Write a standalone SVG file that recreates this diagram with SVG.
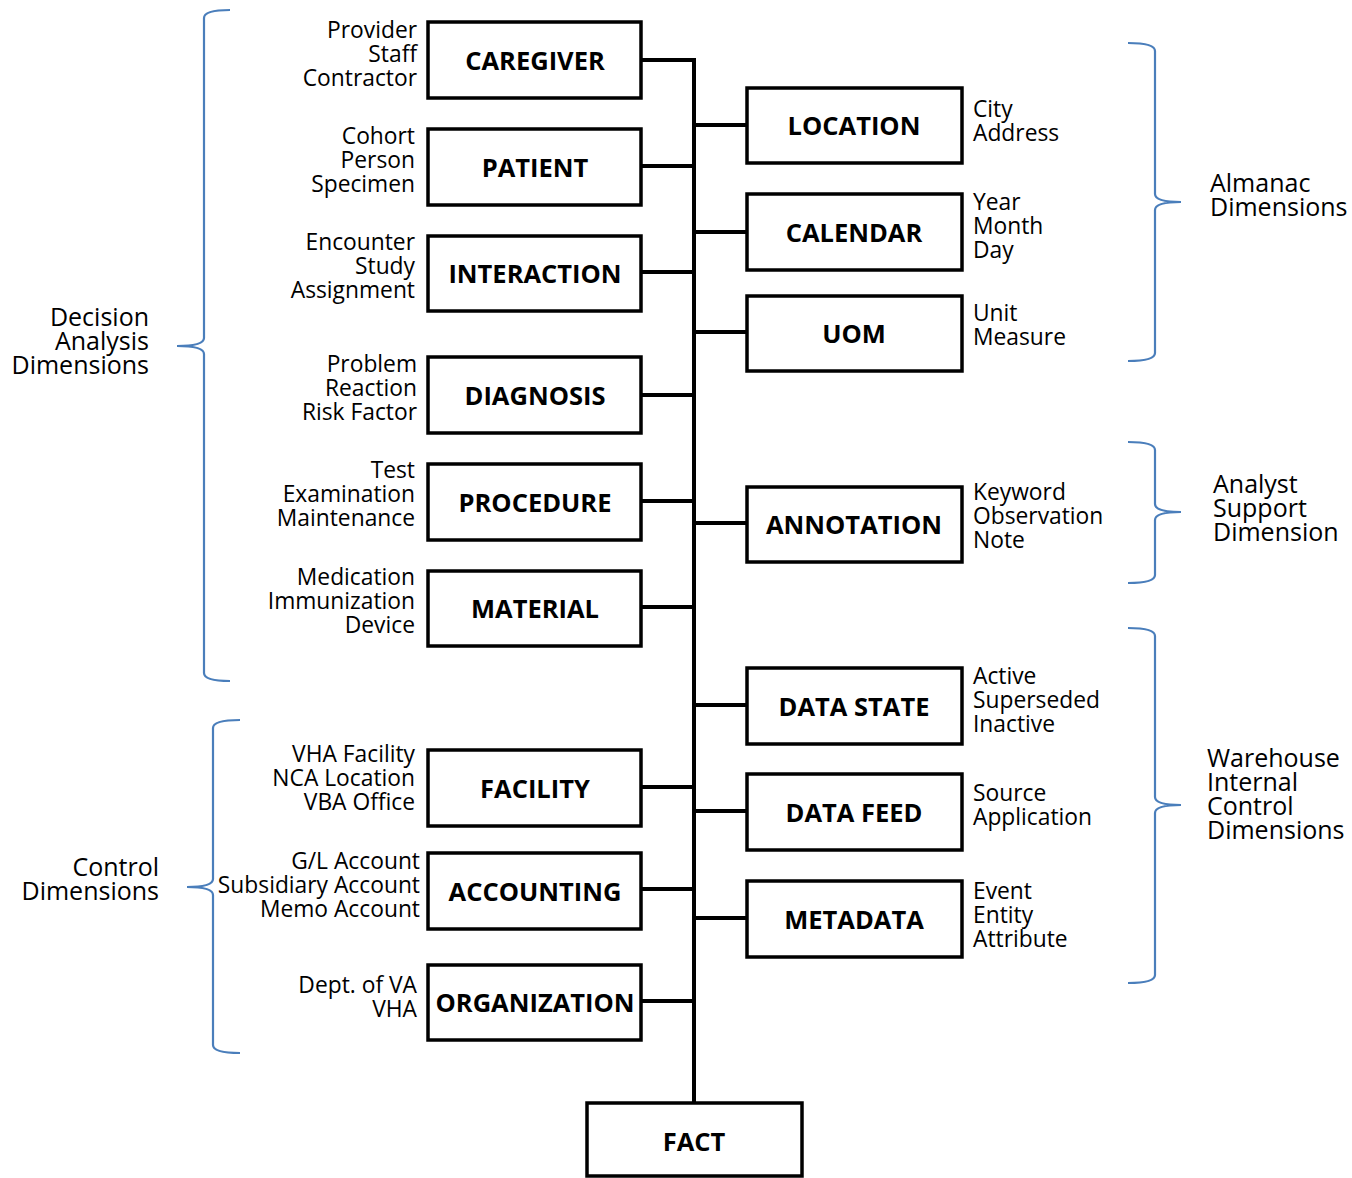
<svg xmlns="http://www.w3.org/2000/svg" width="1352" height="1178" viewBox="0 0 1352 1178">
<style>
.box{fill:#fff;stroke:#000;stroke-width:3.5}
.lbl{font-family:"Open Sans","Liberation Sans",sans-serif;font-weight:bold;font-size:25.5px;fill:#000;text-anchor:middle}
.t{font-family:"Open Sans","Liberation Sans",sans-serif;font-size:22.8px;fill:#000}
.l{text-anchor:end}
.g{font-family:"Open Sans","Liberation Sans",sans-serif;font-size:25px;fill:#000}
.conn{stroke:#000;stroke-width:4;fill:none}
.brace{stroke:#4a7ebb;stroke-width:2.2;fill:none}
</style>
<rect width="1352" height="1178" fill="#fff"/>
<g id="connectors">
<path class="conn" d="M641,60 H694 V1103"/>
<path class="conn" d="M641,166 H694 M641,272 H694 M641,395 H694 M641,501 H694 M641,607 H694 M641,787 H694 M641,889 H694 M641,1001 H694"/>
<path class="conn" d="M694,125 H747 M694,232 H747 M694,332 H747 M694,523 H747 M694,705 H747 M694,811 H747 M694,918 H747"/>
</g>
<g id="braces">
<path class="brace" d="M230,10 Q204,10 204,18 L204,338 Q204,346 177,346 Q204,346 204,354 L204,673 Q204,681 230,681"/>
<path class="brace" d="M240,720 Q213,720 213,728 L213,879 Q213,887 187,887 Q213,887 213,895 L213,1045 Q213,1053 240,1053"/>
<path class="brace" d="M1128,43 Q1155,43 1155,51 L1155,194 Q1155,202 1181,202 Q1155,202 1155,210 L1155,353 Q1155,361 1128,361"/>
<path class="brace" d="M1128,442 Q1155,442 1155,450 L1155,504 Q1155,512 1181,512 Q1155,512 1155,520 L1155,575 Q1155,583 1128,583"/>
<path class="brace" d="M1128,628 Q1155,628 1155,636 L1155,797 Q1155,805 1181,805 Q1155,805 1155,813 L1155,975 Q1155,983 1128,983"/>
</g>
<g id="group-labels">
<text class="g" text-anchor="end"><tspan x="149" y="326">Decision</tspan><tspan x="149" y="350">Analysis</tspan><tspan x="149" y="374">Dimensions</tspan></text>
<text class="g" text-anchor="end"><tspan x="159" y="876">Control</tspan><tspan x="159" y="900">Dimensions</tspan></text>
<text class="g"><tspan x="1210" y="192">Almanac</tspan><tspan x="1210" y="216">Dimensions</tspan></text>
<text class="g"><tspan x="1213" y="493">Analyst</tspan><tspan x="1213" y="517">Support</tspan><tspan x="1213" y="541">Dimension</tspan></text>
<text class="g"><tspan x="1207" y="767">Warehouse</tspan><tspan x="1207" y="791">Internal</tspan><tspan x="1207" y="815">Control</tspan><tspan x="1207" y="839">Dimensions</tspan></text>
</g>
<g id="caregiver">
<rect class="box" x="428" y="22" width="213" height="76"/>
<text class="lbl" x="535" y="70">CAREGIVER</text>
<text class="t l"><tspan x="417" y="38">Provider</tspan><tspan x="417" y="62">Staff</tspan><tspan x="417" y="86">Contractor</tspan></text>
</g>
<g id="patient">
<rect class="box" x="428" y="129" width="213" height="76"/>
<text class="lbl" x="535" y="177">PATIENT</text>
<text class="t l"><tspan x="415" y="144">Cohort</tspan><tspan x="415" y="168">Person</tspan><tspan x="415" y="192">Specimen</tspan></text>
</g>
<g id="interaction">
<rect class="box" x="428" y="236" width="213" height="75"/>
<text class="lbl" x="535" y="283">INTERACTION</text>
<text class="t l"><tspan x="415" y="250">Encounter</tspan><tspan x="415" y="274">Study</tspan><tspan x="415" y="298">Assignment</tspan></text>
</g>
<g id="diagnosis">
<rect class="box" x="428" y="357" width="213" height="76"/>
<text class="lbl" x="535" y="405">DIAGNOSIS</text>
<text class="t l"><tspan x="417" y="372">Problem</tspan><tspan x="417" y="396">Reaction</tspan><tspan x="417" y="420">Risk Factor</tspan></text>
</g>
<g id="procedure">
<rect class="box" x="428" y="464" width="213" height="76"/>
<text class="lbl" x="535" y="512">PROCEDURE</text>
<text class="t l"><tspan x="415" y="478">Test</tspan><tspan x="415" y="502">Examination</tspan><tspan x="415" y="526">Maintenance</tspan></text>
</g>
<g id="material">
<rect class="box" x="428" y="571" width="213" height="75"/>
<text class="lbl" x="535" y="618">MATERIAL</text>
<text class="t l"><tspan x="415" y="585">Medication</tspan><tspan x="415" y="609">Immunization</tspan><tspan x="415" y="633">Device</tspan></text>
</g>
<g id="facility">
<rect class="box" x="428" y="750" width="213" height="76"/>
<text class="lbl" x="535" y="798">FACILITY</text>
<text class="t l"><tspan x="415" y="762">VHA Facility</tspan><tspan x="415" y="786">NCA Location</tspan><tspan x="415" y="810">VBA Office</tspan></text>
</g>
<g id="accounting">
<rect class="box" x="428" y="853" width="213" height="76"/>
<text class="lbl" x="535" y="901">ACCOUNTING</text>
<text class="t l"><tspan x="420" y="869">G/L Account</tspan><tspan x="420" y="893">Subsidiary Account</tspan><tspan x="420" y="917">Memo Account</tspan></text>
</g>
<g id="organization">
<rect class="box" x="428" y="965" width="213" height="75"/>
<text class="lbl" x="535" y="1012">ORGANIZATION</text>
<text class="t l"><tspan x="417" y="993">Dept. of VA</tspan><tspan x="417" y="1017">VHA</tspan></text>
</g>
<g id="location">
<rect class="box" x="747" y="88" width="215" height="75"/>
<text class="lbl" x="854" y="135">LOCATION</text>
<text class="t"><tspan x="973" y="117">City</tspan><tspan x="973" y="141">Address</tspan></text>
</g>
<g id="calendar">
<rect class="box" x="747" y="194" width="215" height="76"/>
<text class="lbl" x="854" y="242">CALENDAR</text>
<text class="t"><tspan x="973" y="210">Year</tspan><tspan x="973" y="234">Month</tspan><tspan x="973" y="258">Day</tspan></text>
</g>
<g id="uom">
<rect class="box" x="747" y="296" width="215" height="75"/>
<text class="lbl" x="854" y="343">UOM</text>
<text class="t"><tspan x="973" y="321">Unit</tspan><tspan x="973" y="345">Measure</tspan></text>
</g>
<g id="annotation">
<rect class="box" x="747" y="487" width="215" height="75"/>
<text class="lbl" x="854" y="534">ANNOTATION</text>
<text class="t"><tspan x="973" y="500">Keyword</tspan><tspan x="973" y="524">Observation</tspan><tspan x="973" y="548">Note</tspan></text>
</g>
<g id="data-state">
<rect class="box" x="747" y="668" width="215" height="76"/>
<text class="lbl" x="854" y="716">DATA STATE</text>
<text class="t"><tspan x="973" y="684">Active</tspan><tspan x="973" y="708">Superseded</tspan><tspan x="973" y="732">Inactive</tspan></text>
</g>
<g id="data-feed">
<rect class="box" x="747" y="774" width="215" height="76"/>
<text class="lbl" x="854" y="822">DATA FEED</text>
<text class="t"><tspan x="973" y="801">Source</tspan><tspan x="973" y="825">Application</tspan></text>
</g>
<g id="metadata">
<rect class="box" x="747" y="881" width="215" height="76"/>
<text class="lbl" x="854" y="929">METADATA</text>
<text class="t"><tspan x="973" y="899">Event</tspan><tspan x="973" y="923">Entity</tspan><tspan x="973" y="947">Attribute</tspan></text>
</g>
<g id="fact">
<rect class="box" x="587" y="1103" width="215" height="73"/>
<text class="lbl" x="694" y="1151">FACT</text>
</g>
</svg>
